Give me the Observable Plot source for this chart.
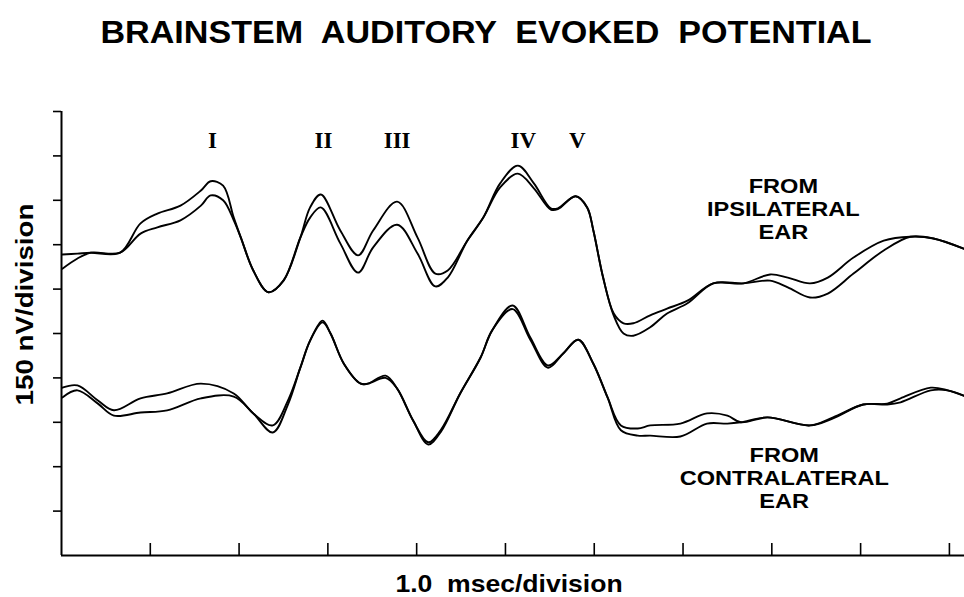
<!DOCTYPE html>
<html>
<head>
<meta charset="utf-8">
<script src="https://cdn.jsdelivr.net/npm/d3@7"></script>
<script src="https://cdn.jsdelivr.net/npm/@observablehq/plot@0.6"></script>
<style>
  html, body { margin: 0; padding: 0; background: #fff; }
  #chart svg { display: block; }
</style>
</head>
<body>
<div id="chart"></div>
<script>
// ---- texts ----
const title = "BRAINSTEM  AUDITORY  EVOKED  POTENTIAL";
const xLabel = "1.0  msec/division";
const yLabel = "150 nV/division";

// ---- axis ticks (1 division each) ----
const xTicks = [1, 2, 3, 4, 5, 6, 7, 8, 9, 10];
const yTicks = [1, 2, 3, 4, 5, 6, 7, 8, 9, 10];

// ---- wave labels ----
const peakLabels = ["I", "II", "III", "IV", "V"];
const peakTimes = [1.70, 2.95, 3.78, 5.20, 5.81];
const peakLabelLevel = 9.17;

const sideLabels = ["FROM\nIPSILATERAL\nEAR", "FROM\nCONTRALATERAL\nEAR"];
const sideLabelTimes = [8.13, 8.14];
const sideLabelLevels = [7.12, 1.06];

// ---- traces: time (msec) and amplitude (divisions) ----
const ipsiTime = [0.01, 0.18, 0.33, 0.66, 0.89, 1.08, 1.34, 1.57, 1.68, 1.82,
  1.94, 2.02, 2.16, 2.33, 2.50, 2.69, 2.80, 2.92, 3.14, 3.34,
  3.51, 3.78, 4.01, 4.21, 4.35, 4.57, 4.75, 4.94, 5.14, 5.32,
  5.51, 5.59, 5.79, 5.92, 5.99, 6.10, 6.22, 6.33, 6.44, 6.63,
  6.82, 7.05, 7.34, 7.68, 7.98, 8.18, 8.43, 8.63, 8.92, 9.26,
  9.56, 9.82, 10.16];
const ipsiA = [6.78, 6.80, 6.82, 6.82, 7.48, 7.70, 7.88, 8.22, 8.43, 8.33,
  7.61, 7.16, 6.42, 5.93, 6.19, 7.16, 7.84, 8.13, 7.32, 6.76,
  7.32, 7.97, 7.16, 6.35, 6.42, 7.09, 7.61, 8.38, 8.78, 8.38,
  7.82, 7.82, 8.09, 7.84, 7.32, 6.26, 5.45, 5.23, 5.23, 5.41,
  5.56, 5.74, 6.13, 6.13, 6.33, 6.26, 6.13, 6.26, 6.71, 7.09,
  7.18, 7.14, 6.91];
const ipsiB = [6.46, 6.69, 6.82, 6.82, 7.25, 7.39, 7.55, 7.88, 8.11, 8.00,
  7.55, 7.16, 6.42, 5.93, 6.19, 7.16, 7.61, 7.84, 7.03, 6.37,
  6.94, 7.45, 6.80, 6.06, 6.26, 7.09, 7.61, 8.29, 8.60, 8.27,
  7.79, 7.80, 8.09, 7.84, 7.32, 6.26, 5.40, 5.00, 4.95, 5.14,
  5.45, 5.68, 6.13, 6.13, 6.19, 6.04, 5.81, 5.90, 6.35, 6.87,
  7.18, 7.14, 6.91];

const contraTime = [0.01, 0.18, 0.41, 0.59, 0.89, 1.19, 1.57, 1.94, 2.16, 2.38,
  2.55, 2.69, 2.80, 2.94, 3.03, 3.18, 3.37, 3.45, 3.65, 3.78,
  3.96, 4.13, 4.27, 4.49, 4.72, 4.85, 5.08, 5.28, 5.48, 5.65,
  5.82, 5.99, 6.15, 6.30, 6.49, 6.63, 6.97, 7.27, 7.50, 7.65,
  7.95, 8.43, 8.69, 9.03, 9.30, 9.45, 9.79, 9.98, 10.16];
const contraA = [3.78, 3.83, 3.49, 3.27, 3.54, 3.65, 3.87, 3.65, 3.20, 2.93,
  3.49, 4.23, 4.84, 5.29, 5.00, 4.32, 3.87, 3.87, 4.05, 3.76,
  3.04, 2.55, 2.82, 3.65, 4.46, 5.07, 5.63, 4.91, 4.28, 4.55,
  4.86, 4.32, 3.56, 2.93, 2.86, 2.93, 2.97, 3.20, 3.15, 3.00,
  3.11, 2.93, 3.11, 3.40, 3.42, 3.54, 3.78, 3.72, 3.60];
const contraB = [3.56, 3.72, 3.42, 3.15, 3.22, 3.27, 3.54, 3.58, 3.20, 2.77,
  3.40, 4.23, 4.84, 5.25, 5.00, 4.32, 3.87, 3.87, 4.00, 3.76,
  3.04, 2.50, 2.78, 3.65, 4.46, 5.07, 5.55, 4.86, 4.23, 4.55,
  4.86, 4.32, 3.56, 2.82, 2.70, 2.70, 2.68, 2.97, 2.97, 3.00,
  3.11, 2.93, 3.09, 3.40, 3.40, 3.45, 3.72, 3.72, 3.60];

// ---- table for the library ----
const traces = [
  ...ipsiTime.map((t, i) => ({t, v: ipsiA[i], trace: "ipsi-a"})),
  ...ipsiTime.map((t, i) => ({t, v: ipsiB[i], trace: "ipsi-b"})),
  ...contraTime.map((t, i) => ({t, v: contraA[i], trace: "contra-a"})),
  ...contraTime.map((t, i) => ({t, v: contraB[i], trace: "contra-b"}))
];
const peaks = peakLabels.map((label, i) => ({label, t: peakTimes[i], v: peakLabelLevel}));
const sides = sideLabels.map((label, i) => ({label, t: sideLabelTimes[i], v: sideLabelLevels[i]}));

const sans = "'Liberation Sans', Arial, Helvetica, sans-serif";
const serif = "'Liberation Serif', 'Times New Roman', serif";

const plot = Plot.plot({
  width: 964,
  height: 597,
  marginLeft: 61,
  marginRight: 0,
  marginTop: 111,
  marginBottom: 42,
  style: {background: "#fff", color: "#000", fontFamily: sans, overflow: "visible"},
  x: {domain: [0, 10.17]},
  y: {domain: [0, 10]},
  marks: [
    Plot.axisX(xTicks, {tickSize: -12, tickFormat: () => "", label: null, strokeWidth: 1.6}),
    Plot.axisY(yTicks, {tickSize: 8, tickFormat: () => "", label: null, strokeWidth: 1.6}),
    Plot.ruleX([0], {stroke: "#000", strokeWidth: 2}),
    Plot.ruleY([0], {stroke: "#000", strokeWidth: 2}),
    Plot.line(traces, {x: "t", y: "v", z: "trace", curve: "catmull-rom", stroke: "#000", strokeWidth: 1.9}),
    Plot.text(peaks, {x: "t", y: "v", text: "label", fontFamily: serif, fontWeight: "bold", fontSize: 23, lineAnchor: "bottom", textAnchor: "middle", fill: "#000"}),
    Plot.text(sides, {x: "t", y: "v", text: "label", fontFamily: sans, fontWeight: "bold", fontSize: 19.5, lineHeight: 1.2, lineAnchor: "bottom", textAnchor: "middle", fill: "#000"}),
    Plot.text([title], {frameAnchor: "top", dx: -27, dy: -69, lineAnchor: "bottom", textAnchor: "middle", fontSize: 32, fontWeight: "bold", fill: "#000"}),
    Plot.text([xLabel], {frameAnchor: "bottom", dx: -4, dy: 36.5, lineAnchor: "bottom", textAnchor: "middle", fontSize: 24, fontWeight: "bold", fill: "#000"}),
    Plot.text([yLabel], {frameAnchor: "left", dx: -29, dy: -29, rotate: -90, lineAnchor: "bottom", textAnchor: "middle", fontSize: 24, fontWeight: "bold", fill: "#000"})
  ]
});

// horizontal stretch of the typeset lettering, matched by text content
function stretch(content, sx, pre) {
  const key = content.replace(/\s+/g, "");
  d3.select(plot).selectAll("text").filter(function () {
    return this.textContent.replace(/\s+/g, "") === key;
  }).each(function () {
    const tr = this.getAttribute("transform");
    if (tr) {
      this.setAttribute("transform", tr + ` scale(${sx},1)`);
    } else {
      const x = +this.getAttribute("x") || 0, y = +this.getAttribute("y") || 0;
      this.setAttribute("transform", `translate(${x},${y}) scale(${sx},1) translate(${-x},${-y})`);
    }
    if (pre) this.style.whiteSpace = "pre";
  });
}
stretch(title, 1.066, true);
stretch(xLabel, 1.107, true);
stretch(yLabel, 1.156, false);
sideLabels.forEach((s) => stretch(s, 1.21, false));

document.getElementById("chart").appendChild(plot);
</script>
</body>
</html>
